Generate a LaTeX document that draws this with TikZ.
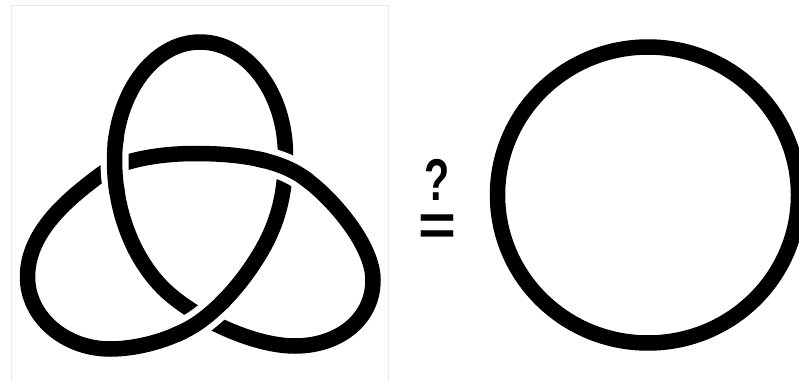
\documentclass[tikz,border=0pt]{standalone}
\usepackage{fontspec}
\newfontfamily\qfont{Liberation Sans}
\begin{document}
\begin{tikzpicture}[x=1pt,y=-1pt,
  knot/.style={line width=15.5pt, line join=round},
  halo/.style={line width=28pt, draw=white},
  frame/.style={draw=black!8, line width=1pt},
  sym/.style={font=\qfont\bfseries\fontsize{59}{59}\selectfont, inner sep=0pt}]
\useasboundingbox (0,0) rectangle (799,382);
\fill[white] (0,0) rectangle (799,382);
\def\segA{.. controls (153,42) and (114.5,95) .. (114.5,160)
  .. controls (114.5,205) and (129.4,252) .. (160,285)
  .. controls (187.2,314.2) and (250,346) .. (295,346)
  .. controls (338,346) and (373,320) .. (373,280)}
\def\segB{.. controls (373,245) and (331.7,197) .. (303,177)
  .. controls (274.3,157) and (230,153.5) .. (195,153.5)
  .. controls (160,153.5) and (120,160) .. (100,175)
  .. controls (68,199) and (27.5,232) .. (27.5,277)}
\def\segC{.. controls (27.5,317) and (65,349) .. (110,349)
  .. controls (140,349) and (178,338) .. (202,320)
  .. controls (226,302) and (247,276) .. (262,250)
  .. controls (279.5,219.5) and (285.5,190) .. (285.5,155)
  .. controls (285.5,93) and (247,42) .. (200,42)}
\draw[frame] (11,6) rectangle (388.3,400);
% trefoil: whole curve, then the over-strand at each crossing
\draw[knot] (200,42) \segA \segB \segC -- cycle;
% crossing 1 (left)
\begin{scope}
  \clip (114.5,165) circle [radius=22pt];
  \draw[halo] (200,42) \segA;
\end{scope}
\begin{scope}
  \clip (114.5,165) circle [radius=30pt];
  \draw[knot] (200,42) \segA;
\end{scope}
% crossing 2 (right)
\begin{scope}
  \clip (285.5,167.5) circle [radius=22pt];
  \draw[halo] (373,280) \segB;
\end{scope}
\begin{scope}
  \clip (285.5,167.5) circle [radius=30pt];
  \draw[knot] (373,280) \segB;
\end{scope}
% crossing 3 (bottom)
\begin{scope}
  \clip (202,319) circle [radius=24pt];
  \draw[halo] (27.5,277) \segC;
\end{scope}
\begin{scope}
  \clip (202,319) circle [radius=32pt];
  \draw[knot] (27.5,277) \segC;
\end{scope}
% question mark over equals
\node[sym, anchor=base, xscale=0.7, text depth=0pt] (q) at (437,200) {?};
\node[sym, anchor=base, xscale=1.1, text height=33pt, text depth=0pt] (eq) at (437,245) {=};
% unknot
\draw[knot] (648,195) ellipse (150.5 and 148);
\end{tikzpicture}
\end{document}
